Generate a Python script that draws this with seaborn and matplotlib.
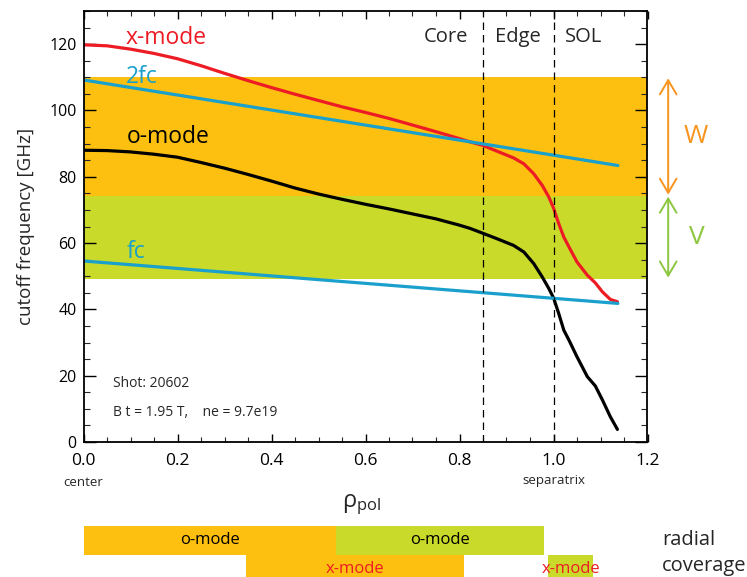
import matplotlib
matplotlib.use("Agg")
import matplotlib.pyplot as plt
import pandas as pd
import seaborn as sns
from matplotlib.ticker import MultipleLocator

# cutoff frequencies along the normalized poloidal radius
rho_x = [0.0, 0.05, 0.1, 0.15, 0.2, 0.25, 0.3, 0.35, 0.4, 0.45, 0.5, 0.55,
         0.6, 0.65, 0.7, 0.75, 0.8, 0.823, 0.849, 0.88, 0.915, 0.937, 0.958,
         0.976, 0.99, 1.0, 1.011, 1.022, 1.033, 1.05, 1.072, 1.089, 1.104,
         1.121, 1.136]
f_xmode = [119.8, 119.5, 118.5, 117.2, 115.6, 113.5, 111.2, 109.0, 106.9,
           104.9, 103.0, 101.1, 99.4, 97.6, 95.6, 93.6, 91.5, 90.5, 89.5,
           87.7, 85.7, 83.9, 80.9, 77.4, 73.9, 70.6, 65.9, 61.8, 58.8, 54.3,
           50.3, 48.0, 45.3, 43.0, 42.3]

rho_o = [0.0, 0.05, 0.1, 0.15, 0.2, 0.25, 0.3, 0.35, 0.4, 0.45, 0.5, 0.55,
         0.6, 0.65, 0.7, 0.75, 0.8, 0.823, 0.849, 0.88, 0.915, 0.937, 0.958,
         0.976, 0.99, 1.0, 1.011, 1.022, 1.033, 1.05, 1.072, 1.089, 1.104,
         1.121, 1.136]
f_omode = [88.0, 87.9, 87.5, 86.8, 85.9, 84.3, 82.6, 80.7, 78.7, 76.6, 74.8,
           73.2, 71.7, 70.3, 68.8, 67.3, 65.4, 64.4, 63.0, 61.3, 59.3, 57.3,
           53.8, 49.8, 46.3, 43.5, 38.8, 33.7, 30.7, 25.7, 19.7, 16.9, 12.7,
           7.6, 3.8]

rho_c = [0.0, 1.137]
f_fc = [54.6, 41.8]
f_2fc = [109.2, 83.4]

# waveguide bands [GHz]
band_v = [49.3, 74.3]
band_w = [74.3, 110.0]

# region boundaries and names
region_edges = [0.85, 1.0]
region_names = ["Core", "Edge", "SOL"]
region_x = [0.725, 0.875, 1.025]

# radial coverage of each reflectometer
cov_labels = ["o-mode", "o-mode", "x-mode", "x-mode"]
cov_band = ["W", "V", "W", "V"]
cov_start = [0.0, 0.538, 0.346, 0.989]
cov_end = [0.538, 0.979, 0.810, 1.085]
cov_row = [1, 1, 0, 0]

ORANGE = "#FDC010"
GREEN = "#C9DA2A"
RED = "#ED1C24"
BLUE = "#1AA0CC"
W_COL = "#F7941D"
V_COL = "#8DC63F"
band_color = {"W": ORANGE, "V": GREEN}

sns.set_theme(style="ticks")
FONT = ["Open Sans", "DejaVu Sans"]
plt.rcParams["font.family"] = FONT
plt.rcParams["mathtext.fontset"] = "custom"
plt.rcParams["mathtext.rm"] = "Open Sans"
plt.rcParams["mathtext.it"] = "Open Sans:italic"
plt.rcParams["lines.solid_joinstyle"] = "round"
plt.rcParams["lines.solid_capstyle"] = "round"

W, H = 747, 577
fig = plt.figure(figsize=(W / 100, H / 100), dpi=100)
x0, x1, y0, y1 = 83.5, 647.5, 11, 442
ax = fig.add_axes([x0 / W, 1 - y1 / H, (x1 - x0) / W, (y1 - y0) / H])

ax.axhspan(band_w[0], band_w[1], color=ORANGE, lw=0, zorder=0)
ax.axhspan(band_v[0], band_v[1], color=GREEN, lw=0, zorder=0)

curves = pd.concat([
    pd.DataFrame({"rho": rho_x, "f": f_xmode, "wave": "x-mode"}),
    pd.DataFrame({"rho": rho_o, "f": f_omode, "wave": "o-mode"}),
    pd.DataFrame({"rho": rho_c, "f": f_2fc, "wave": "2fc"}),
    pd.DataFrame({"rho": rho_c, "f": f_fc, "wave": "fc"}),
])
palette = {"x-mode": RED, "o-mode": "black", "2fc": BLUE, "fc": BLUE}
sns.lineplot(data=curves, x="rho", y="f", hue="wave", palette=palette,
             units="wave", estimator=None, sort=False, lw=2.3, legend=False,
             ax=ax, zorder=3)

for xe in region_edges:
    ax.axvline(xe, color="black", lw=0.9, ls=(0, (6, 4)), zorder=4)
for name, xr in zip(region_names, region_x):
    ax.text(xr, 120.5, name, fontsize=14.5, ha="left", va="baseline")

# curve labels
ax.text(0.089, 120.0, "x-mode", color=RED, fontsize=16.5, va="baseline")
ax.text(0.091, 108.4, "2fc", color=BLUE, fontsize=16.5, va="baseline")
ax.text(0.091, 90.2, "o-mode", color="black", fontsize=16.5, va="baseline")
ax.text(0.091, 55.4, "fc", color=BLUE, fontsize=16.5, va="baseline")

ax.text(0.062, 16.5, "Shot: 20602", fontsize=10, va="baseline")
ax.text(0.062, 7.9, "B t = 1.95 T,    ne = 9.7e19", fontsize=10,
        va="baseline")

ax.set_xlim(0, 1.2)
ax.set_ylim(0, 130)
ax.xaxis.set_major_locator(MultipleLocator(0.2))
ax.xaxis.set_minor_locator(MultipleLocator(0.05))
ax.yaxis.set_major_locator(MultipleLocator(20))
ax.yaxis.set_minor_locator(MultipleLocator(5))
ax.xaxis.set_major_formatter(lambda v, p: f"{v:.1f}")
ax.tick_params(axis="x", which="major", direction="in", length=6, width=1,
               top=True, bottom=True, labelsize=12.5, pad=8, colors="black")
ax.tick_params(axis="x", which="minor", direction="in", length=3.5,
               width=0.8, top=True, bottom=True)
ax.tick_params(axis="y", which="major", direction="in", length=8.5, width=1,
               left=True, right=True, labelsize=11.5, pad=5, colors="black")
ax.tick_params(axis="y", which="minor", direction="in", length=4,
               width=0.8, left=True, right=True)
for s in ax.spines.values():
    s.set_linewidth(1.3)
    s.set_color("black")
    s.set_zorder(5)
ax.set_xlabel("")
ax.set_ylabel("cutoff frequency [GHz]", fontsize=13.5, labelpad=10)

ax.text(0.0, -0.095, "center", transform=ax.transAxes, fontsize=9.5,
        ha="center", va="center")
ax.text(1.0 / 1.2, -0.09, "separatrix", transform=ax.transAxes,
        fontsize=9.5, ha="center", va="center")
fig.text(362 / W, 1 - 505 / H, r"$\mathrm{ρ}_{\mathrm{pol}}$", fontsize=17,
         ha="center", va="center")

# waveguide band arrows
xa = 1.244
arrow_style = "<->,head_length=0.85,head_width=0.5"
ax.annotate("", xy=(xa, band_w[1] - 0.3), xytext=(xa, band_w[0] + 0.3),
            arrowprops=dict(arrowstyle=arrow_style, color=W_COL, lw=1.4,
                            shrinkA=0, shrinkB=0),
            annotation_clip=False)
ax.annotate("", xy=(xa, band_v[1] - 0.3), xytext=(xa, band_v[0] + 0.3),
            arrowprops=dict(arrowstyle=arrow_style, color=V_COL, lw=1.4,
                            shrinkA=0, shrinkB=0),
            annotation_clip=False)
ax.text(1.302, sum(band_w) / 2, "W", color=W_COL, fontsize=19,
        ha="center", va="center", clip_on=False)
ax.text(1.305, sum(band_v) / 2, "V", color=V_COL, fontsize=19,
        ha="center", va="center", clip_on=False)

# radial coverage bars on the same rho scale
cy0, cy1 = 526, 577
cax = fig.add_axes([x0 / W, 1 - cy1 / H, (x1 - x0) / W, (cy1 - cy0) / H])
row_h = 28.7
cax.set_xlim(0, 1.2)
cax.set_ylim(1.5 - (cy1 - cy0) / row_h, 1.5)
for lab, b, s, e, r in zip(cov_labels, cov_band, cov_start, cov_end, cov_row):
    cax.barh(r, e - s, left=s, height=1.0, color=band_color[b], lw=0)
    cax.text((s + e) / 2, r, lab, ha="center", va="center", fontsize=12,
             color="black" if lab == "o-mode" else RED, clip_on=False)
cax.axis("off")

fig.text(662 / W, 1 - 540 / H, "radial", fontsize=14.5, ha="left",
         va="center")
fig.text(662 / W, 1 - 566 / H, "coverage", fontsize=14.5, ha="left",
         va="center")

fig.savefig("out.png", dpi=100)
